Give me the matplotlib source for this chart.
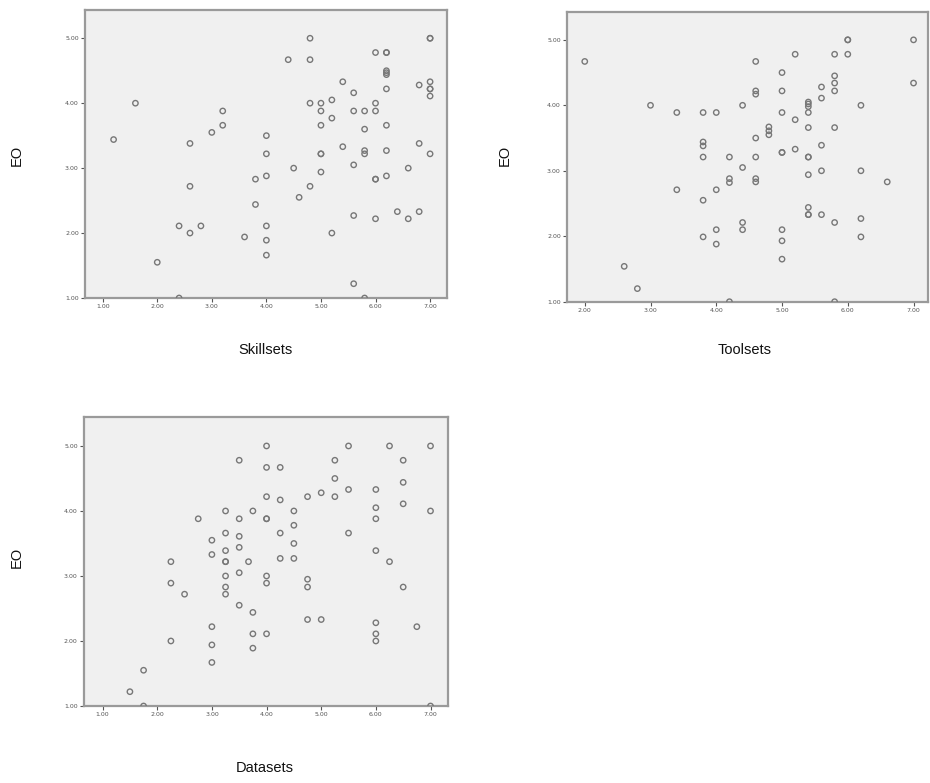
import matplotlib
matplotlib.use("Agg")
import matplotlib.pyplot as plt

# ---------------- data ----------------
skill_x = [1.2, 1.6, 3.2, 3.2, 3.0, 2.6, 2.6, 2.4, 2.8, 2.6, 2.0, 2.4, 3.6, 3.8, 3.8,
           4.0, 4.0, 4.0, 4.0, 4.0, 4.0,
           4.8, 4.4, 4.8, 4.5, 4.6, 4.8, 4.8, 5.0, 5.0, 5.2, 5.2, 5.0, 5.0, 5.0, 5.0, 5.2,
           5.4, 5.4, 5.6, 5.6, 5.6, 5.6, 5.6, 5.8, 5.8, 5.8, 5.8, 5.8,
           6.0, 6.0, 6.0, 6.0, 6.0, 6.0, 6.2, 6.2, 6.2, 6.2, 6.2, 6.2, 6.2, 6.2, 6.2,
           6.4, 6.6, 6.6, 6.8, 6.8, 6.8, 7.0, 7.0, 7.0, 7.0, 7.0, 7.0, 7.0]
skill_y = [3.44, 4.0, 3.88, 3.66, 3.55, 3.38, 2.72, 2.11, 2.11, 2.0, 1.55, 1.0, 1.94, 2.83, 2.44,
           3.5, 3.22, 2.88, 2.11, 1.89, 1.66,
           5.0, 4.67, 4.67, 3.0, 2.55, 2.72, 4.0, 4.0, 3.88, 4.05, 3.77, 3.66, 3.22, 3.22, 2.94, 2.0,
           4.33, 3.33, 4.16, 3.88, 3.05, 2.27, 1.22, 3.88, 3.6, 3.27, 3.22, 1.0,
           4.78, 4.0, 3.88, 2.83, 2.83, 2.22, 4.78, 4.78, 4.5, 4.47, 4.44, 4.22, 3.66, 3.27, 2.88,
           2.33, 3.0, 2.22, 4.28, 3.38, 2.33, 5.0, 5.0, 4.33, 4.22, 4.22, 4.11, 3.22]

tool_x = [2.0, 2.6, 2.8, 3.0, 3.4, 3.4, 3.8, 3.8, 3.8, 3.8, 3.8, 3.8,
          4.0, 4.0, 4.0, 4.0, 4.2, 4.2, 4.2, 4.2, 4.4, 4.4, 4.4, 4.4,
          4.6, 4.6, 4.6, 4.6, 4.6, 4.6, 4.6, 4.8, 4.8, 4.8,
          5.0, 5.0, 5.0, 5.0, 5.0, 5.0, 5.0, 5.0, 5.2, 5.2, 5.2,
          5.4, 5.4, 5.4, 5.4, 5.4, 5.4, 5.4, 5.4, 5.4, 5.4, 5.4,
          5.6, 5.6, 5.6, 5.6, 5.6, 5.8, 5.8, 5.8, 5.8, 5.8, 5.8, 5.8,
          6.0, 6.0, 6.0, 6.2, 6.2, 6.2, 6.2, 6.6, 7.0, 7.0]
tool_y = [4.67, 1.54, 1.2, 4.0, 3.89, 2.71, 3.89, 3.44, 3.38, 3.21, 2.55, 1.99,
          3.89, 2.71, 2.1, 1.88, 3.21, 2.88, 2.82, 1.0, 4.0, 3.05, 2.21, 2.1,
          4.67, 4.22, 4.17, 3.5, 3.21, 2.88, 2.83, 3.67, 3.61, 3.55,
          4.5, 4.22, 3.89, 3.28, 3.28, 2.1, 1.93, 1.65, 4.78, 3.78, 3.33,
          4.05, 4.02, 3.98, 3.89, 3.66, 3.21, 3.21, 2.94, 2.44, 2.33, 2.33,
          4.28, 4.11, 3.39, 3.0, 2.33, 4.78, 4.45, 4.34, 4.22, 3.66, 2.21, 1.0,
          5.0, 5.0, 4.78, 4.0, 3.0, 2.27, 1.99, 2.83, 5.0, 4.34]

data_x = [1.5, 1.75, 1.75, 2.25, 2.25, 2.25, 2.5, 2.75,
          3.0, 3.0, 3.0, 3.0, 3.0, 3.25, 3.25, 3.25, 3.25, 3.25, 3.25, 3.25, 3.25,
          3.5, 3.5, 3.5, 3.5, 3.5, 3.5, 3.67, 3.75, 3.75, 3.75, 3.75,
          4.0, 4.0, 4.0, 4.0, 4.0, 4.0, 4.0, 4.0,
          4.25, 4.25, 4.25, 4.25, 4.5, 4.5, 4.5, 4.5, 4.75, 4.75, 4.75, 4.75,
          5.0, 5.0, 5.25, 5.25, 5.25, 5.5, 5.5, 5.5,
          6.0, 6.0, 6.0, 6.0, 6.0, 6.0, 6.0, 6.25, 6.25, 6.5, 6.5, 6.5, 6.5, 6.75,
          7.0, 7.0, 7.0]
data_y = [1.22, 1.55, 1.0, 3.22, 2.89, 2.0, 2.72, 3.88,
          3.55, 3.33, 2.22, 1.94, 1.67, 4.0, 3.66, 3.39, 3.22, 3.22, 3.0, 2.83, 2.72,
          4.78, 3.88, 3.61, 3.44, 3.05, 2.55, 3.22, 4.0, 2.44, 2.11, 1.89,
          5.0, 4.67, 4.22, 3.88, 3.88, 3.0, 2.89, 2.11,
          4.67, 4.17, 3.66, 3.27, 4.0, 3.78, 3.5, 3.27, 4.22, 2.95, 2.83, 2.33,
          4.28, 2.33, 4.78, 4.5, 4.22, 5.0, 4.33, 3.66,
          4.33, 4.05, 3.88, 3.39, 2.28, 2.11, 2.0, 5.0, 3.22, 4.78, 4.44, 4.11, 2.83, 2.22,
          5.0, 4.0, 1.0]

x_ticks = [1.0, 2.0, 3.0, 4.0, 5.0, 6.0, 7.0]
y_ticks = [1.0, 2.0, 3.0, 4.0, 5.0]

panels = [
    (skill_x, skill_y, "Skillsets", [85/930, 1-298/783, 362/930, 288/783], (0.676, 7.31), (1.0, 5.435)),
    (tool_x, tool_y, "Toolsets", [567/930, 1-301.7/783, 361/930, 290/783], (1.73, 7.22), (1.0, 5.43)),
    (data_x, data_y, "Datasets", [84/930, 1-706/783, 364/930, 289.3/783], (0.66, 7.32), (1.0, 5.45)),
]
xlabel_pos = [(265, 350), (745, 350), (265, 768)]
ylabel_pos = [(17, 155), (505, 155), (17, 557)]

fig = plt.figure(figsize=(9.3, 7.83), dpi=100)
fig.patch.set_facecolor("white")

for i, (xs, ys, xl, rect, xlim, ylim) in enumerate(panels):
    ax = fig.add_axes(rect)
    ax.set_facecolor("#f0f0f0")
    ax.scatter(xs, ys, s=15, facecolors="none", edgecolors="#777777", linewidths=1.0, zorder=3)
    vis_x = [t for t in x_ticks if xlim[0] <= t <= xlim[1]]
    ax.set_xticks(vis_x)
    ax.set_yticks(y_ticks)
    ax.set_xticklabels([f"{v:.2f}" for v in vis_x])
    ax.set_yticklabels([f"{v:.2f}" for v in y_ticks])
    ax.set_xlim(*xlim)
    ax.set_ylim(*ylim)
    ax.tick_params(axis="both", labelsize=4.5, colors="#555555", length=3, width=0.8,
                   direction="out", pad=1.5)
    for side in ["top", "right", "left", "bottom"]:
        ax.spines[side].set_color("#9a9a9a")
        ax.spines[side].set_linewidth(1.6)
    xp, yp = xlabel_pos[i]
    fig.text(xp/930, 1-yp/783, xl, ha="center", va="center", fontsize=10.5,
             family="Liberation Sans", color="#111111")
    xp, yp = ylabel_pos[i]
    fig.text(xp/930, 1-yp/783, "EO", ha="center", va="center", fontsize=10.5,
             rotation=90, family="Liberation Sans", color="#111111")

fig.savefig("out.png", dpi=100, facecolor="white")
